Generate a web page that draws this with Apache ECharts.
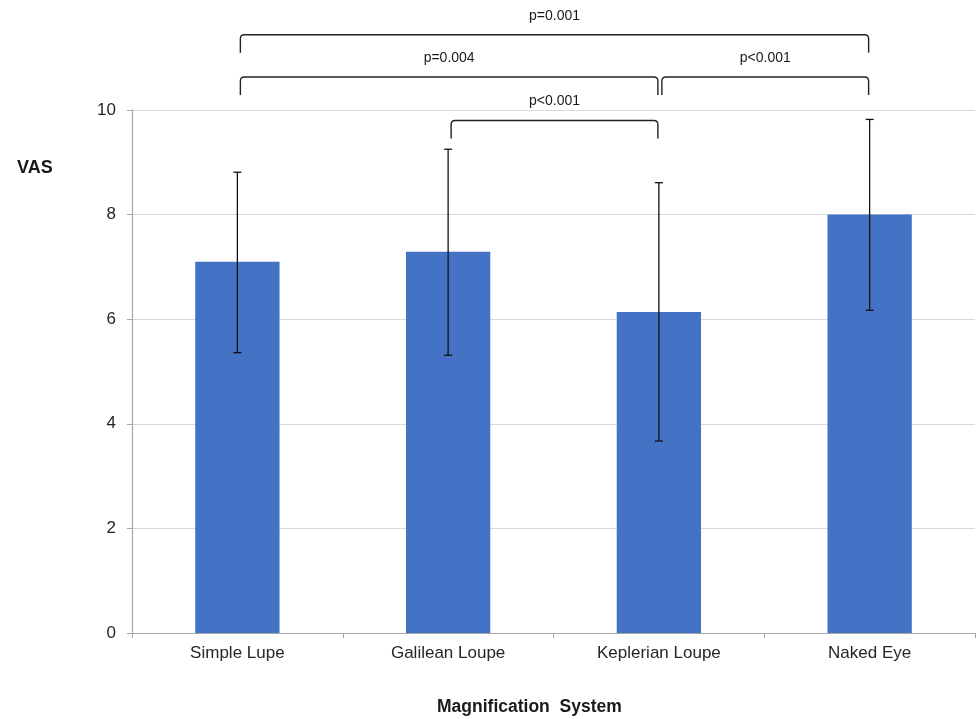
<!DOCTYPE html>
<html>
<head>
<meta charset="utf-8">
<script src="https://cdn.jsdelivr.net/npm/echarts@6/dist/echarts.min.js"></script>
<style>
html,body{margin:0;padding:0;background:#fff;}
#chart{width:977px;height:719px;}
</style>
</head>
<body>
<div id="chart"></div>
<script>
var categories = ['Simple Lupe', 'Galilean Loupe', 'Keplerian Loupe', 'Naked Eye'];
var meanVAS = [7.1, 7.29, 6.14, 8.0];
var errLow = [5.36, 5.31, 3.67, 6.17];
var errHigh = [8.81, 9.25, 8.61, 9.82];
var yTicks = [0, 2, 4, 6, 8, 10];

var bracketFrom = [0, 0, 2, 1];
var bracketTo = [3, 2, 3, 2];
var bracketLevel = [11.44, 10.63, 10.63, 9.8];
var bracketLabel = ['p=0.001', 'p=0.004', 'p<0.001', 'p<0.001'];

var FONT = '"Liberation Sans", Arial, sans-serif';
var chart = echarts.init(document.getElementById('chart'));

var option = {
  animation: false,
  backgroundColor: '#ffffff',
  grid: { left: 132, right: 2, top: 110, bottom: 86, containLabel: false },
  xAxis: {
    type: 'category',
    data: categories,
    axisLine: { lineStyle: { color: '#a6a6a6', width: 1.2 } },
    axisTick: { show: true, alignWithLabel: false, length: 5, lineStyle: { color: '#a6a6a6' } },
    axisLabel: { color: '#262626', fontSize: 17, fontFamily: FONT, margin: 12 },
    splitLine: { show: false }
  },
  yAxis: {
    type: 'value',
    min: yTicks[0],
    max: yTicks[yTicks.length - 1],
    interval: 2,
    axisLine: { show: true, lineStyle: { color: '#a6a6a6', width: 1.2 } },
    axisTick: { show: true, length: 5, lineStyle: { color: '#a6a6a6' } },
    axisLabel: { color: '#262626', fontSize: 17, fontFamily: FONT, margin: 16 },
    splitLine: { show: true, lineStyle: { color: '#d9d9d9', width: 1.2 } }
  },
  graphic: [
    { type: 'text', left: 17, top: 159, style: { text: 'VAS', font: 'bold 18px ' + FONT, fill: '#1a1a1a' } },
    { type: 'text', left: 437, top: 698, style: { text: 'Magnification  System', font: 'bold 17.5px ' + FONT, fill: '#1a1a1a' } }
  ],
  series: [
    {
      type: 'bar',
      data: meanVAS,
      barWidth: '40%',
      itemStyle: { color: '#4472C4' },
      z: 2
    },
    {
      type: 'custom',
      z: 5,
      clip: false,
      data: categories.map(function (c, i) { return [i, errLow[i], errHigh[i]]; }),
      encode: { x: 0, y: [1, 2] },
      renderItem: function (params, api) {
        var i = api.value(0);
        var lo = api.coord([i, api.value(1)]);
        var hi = api.coord([i, api.value(2)]);
        var w = 4;
        var st = { stroke: '#111111', lineWidth: 1.3 };
        return {
          type: 'group',
          children: [
            { type: 'line', shape: { x1: hi[0], y1: hi[1], x2: lo[0], y2: lo[1] }, style: st },
            { type: 'line', shape: { x1: hi[0] - w, y1: hi[1], x2: hi[0] + w, y2: hi[1] }, style: st },
            { type: 'line', shape: { x1: lo[0] - w, y1: lo[1], x2: lo[0] + w, y2: lo[1] }, style: st }
          ]
        };
      }
    },
    {
      type: 'custom',
      z: 6,
      clip: false,
      data: bracketFrom.map(function (f, i) { return [f, bracketLevel[i], bracketTo[i]]; }),
      encode: { x: 0, y: 1 },
      renderItem: function (params, api) {
        var idx = params.dataIndex;
        var p1 = api.coord([bracketFrom[idx], bracketLevel[idx]]);
        var p2 = api.coord([bracketTo[idx], bracketLevel[idx]]);
        var x1 = p1[0] + 3, x2 = p2[0] - 1, yt = p1[1];
        var drop = 18, r = 4;
        var d = 'M' + x1 + ' ' + (yt + drop) +
          ' L' + x1 + ' ' + (yt + r) +
          ' Q' + x1 + ' ' + yt + ' ' + (x1 + r) + ' ' + yt +
          ' L' + (x2 - r) + ' ' + yt +
          ' Q' + x2 + ' ' + yt + ' ' + x2 + ' ' + (yt + r) +
          ' L' + x2 + ' ' + (yt + drop);
        return {
          type: 'group',
          children: [
            { type: 'path', shape: { pathData: d }, style: { fill: null, stroke: '#222222', lineWidth: 1.4 } },
            { type: 'text', style: { text: bracketLabel[idx], x: (x1 + x2) / 2, y: yt - 19, align: 'center', verticalAlign: 'middle', font: '14px ' + FONT, fill: '#1a1a1a' } }
          ]
        };
      }
    }
  ]
};
chart.setOption(option);
</script>
</body>
</html>
